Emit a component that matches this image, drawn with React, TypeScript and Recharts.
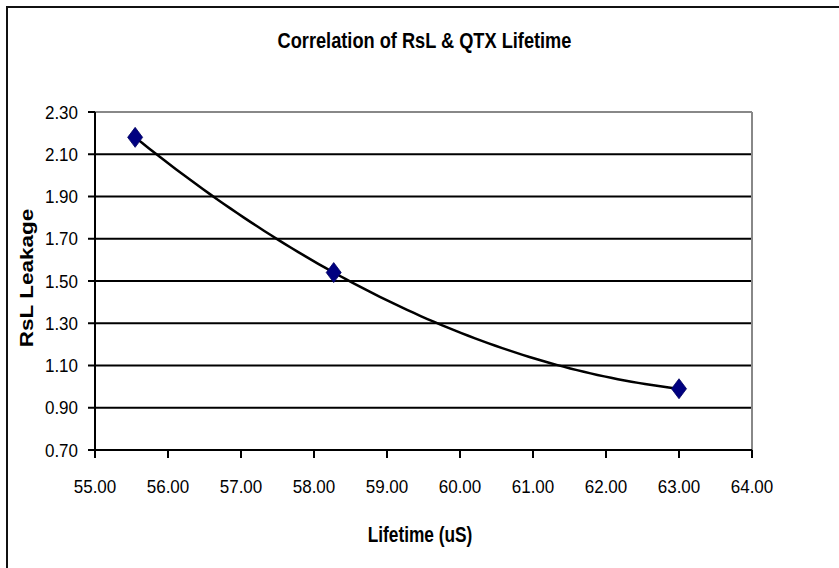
import React from "react";
import {
  ComposedChart,
  Scatter,
  Line,
  XAxis,
  YAxis,
  CartesianGrid,
  ReferenceLine,
} from "recharts";

// Measured samples: lifetime (uS) vs RsL leakage
const lifetimeUs = [55.55, 58.27, 63.0];
const rslLeakage = [2.18, 1.54, 0.99];

const xTicks = [55, 56, 57, 58, 59, 60, 61, 62, 63, 64];
const yTicks = [0.7, 0.9, 1.1, 1.3, 1.5, 1.7, 1.9, 2.1, 2.3];
const innerGridValues = [0.9, 1.1, 1.3, 1.5, 1.7, 1.9, 2.1];

const chartTitle = "Correlation of RsL & QTX Lifetime";
const xTitle = "Lifetime (uS)";
const yTitle = "RsL Leakage";

const data = lifetimeUs.map((x, i) => ({ x, y: rslLeakage[i] }));

const FONT = "'Liberation Sans', Arial, Helvetica, sans-serif";
const TICK_STRETCH = 1.1;

// Second-order polynomial trendline: the parabola through the first,
// middle and last projected points (scales are linear, so pixel space works).
const polyTrend = (context: any) => {
  let pts: { x: number; y: number }[] = [];
  return {
    areaStart() {},
    areaEnd() {},
    lineStart() {
      pts = [];
    },
    point(x: number, y: number) {
      pts.push({ x: +x, y: +y });
    },
    lineEnd() {
      if (pts.length === 0) return;
      if (pts.length < 3) {
        context.moveTo(pts[0].x, pts[0].y);
        pts.slice(1).forEach((p) => context.lineTo(p.x, p.y));
        return;
      }
      const a = pts[0];
      const b = pts[Math.floor(pts.length / 2)];
      const c = pts[pts.length - 1];
      const f = (x: number) =>
        (a.y * (x - b.x) * (x - c.x)) / ((a.x - b.x) * (a.x - c.x)) +
        (b.y * (x - a.x) * (x - c.x)) / ((b.x - a.x) * (b.x - c.x)) +
        (c.y * (x - a.x) * (x - b.x)) / ((c.x - a.x) * (c.x - b.x));
      const steps = 80;
      context.moveTo(a.x, a.y);
      for (let i = 1; i <= steps; i++) {
        const x = a.x + ((c.x - a.x) * i) / steps;
        context.lineTo(x, f(x));
      }
    },
  };
};

const Diamond = (props: any) => {
  const { cx, cy } = props;
  if (cx == null || cy == null) return null;
  const hw = 7.5;
  const hh = 10;
  return (
    <polygon
      points={`${cx},${cy - hh} ${cx + hw},${cy} ${cx},${cy + hh} ${cx - hw},${cy}`}
      fill="#000080"
      stroke="#000060"
      strokeWidth={0.8}
    />
  );
};

const fmt = (v: number) => v.toFixed(2);

const XTick = (props: any) => {
  const { x, y, payload } = props;
  return (
    <text
      transform={`translate(${x},${y}) scale(1,${TICK_STRETCH})`}
      textAnchor="middle"
      dy="0.71em"
      fontFamily={FONT}
      fontSize={17}
      fill="#000"
    >
      {fmt(payload.value)}
    </text>
  );
};

const YTick = (props: any) => {
  const { x, y, payload } = props;
  return (
    <text
      transform={`translate(${x},${y}) scale(1,${TICK_STRETCH})`}
      textAnchor="end"
      dy="0.355em"
      fontFamily={FONT}
      fontSize={17}
      fill="#000"
    >
      {fmt(payload.value)}
    </text>
  );
};

export default function App() {
  return (
    <div
      style={{
        position: "fixed",
        left: 0,
        top: 0,
        width: 839,
        height: 568,
        overflow: "hidden",
        background: "#fff",
      }}
    >
      {/* chart area frame */}
      <div
        style={{
          position: "absolute",
          left: 6,
          top: 6,
          width: 900,
          height: 700,
          borderTop: "2px solid #111",
          borderLeft: "2px solid #111",
          boxSizing: "border-box",
        }}
      />
      <div style={{ position: "absolute", left: 0, top: 0 }}>
        <ComposedChart
          width={839}
          height={568}
          data={data}
          margin={{ top: 112, right: 87, bottom: 0, left: 0 }}
        >
          <CartesianGrid
            vertical={false}
            horizontalValues={innerGridValues}
            stroke="#000"
            strokeWidth={2}
          />
          <ReferenceLine y={2.3} stroke="#888" strokeWidth={2} />
          <ReferenceLine x={64} stroke="#888" strokeWidth={2} />
          <XAxis
            dataKey="x"
            type="number"
            domain={[55, 64]}
            ticks={xTicks}
            interval={0}
            allowDataOverflow
            tickFormatter={fmt}
            height={118}
            tickSize={8}
            tickMargin={22}
            axisLine={{ stroke: "#000", strokeWidth: 2 }}
            tickLine={{ stroke: "#000", strokeWidth: 2 }}
            tick={<XTick />}
          />
          <YAxis
            type="number"
            domain={[0.7, 2.3]}
            ticks={yTicks}
            interval={0}
            allowDataOverflow
            tickFormatter={fmt}
            width={95}
            tickSize={7}
            tickMargin={10}
            axisLine={{ stroke: "#000", strokeWidth: 2 }}
            tickLine={{ stroke: "#000", strokeWidth: 2 }}
            tick={<YTick />}
          />
          <Scatter
            dataKey="y"
            shape={<Diamond />}
            isAnimationActive={false}
          />
          <Line
            dataKey="y"
            type={polyTrend as any}
            stroke="#000"
            strokeWidth={2.5}
            dot={false}
            activeDot={false}
            isAnimationActive={false}
          />
        </ComposedChart>
      </div>
      <svg
        width={839}
        height={568}
        style={{ position: "absolute", left: 0, top: 0, pointerEvents: "none" }}
      >
        <text
          transform="translate(424.5,48) scale(1,1.25)"
          textAnchor="middle"
          fontFamily={FONT}
          fontWeight="bold"
          fontSize={18.2}
          fill="#000"
        >
          {chartTitle}
        </text>
        <text
          transform="translate(420,542) scale(1,1.28)"
          textAnchor="middle"
          fontFamily={FONT}
          fontWeight="bold"
          fontSize={17.3}
          fill="#000"
        >
          {xTitle}
        </text>
        <text
          transform="translate(32.5,278) rotate(-90) scale(1.25,1)"
          textAnchor="middle"
          fontFamily={FONT}
          fontWeight="bold"
          fontSize={18}
          fill="#000"
        >
          {yTitle}
        </text>
      </svg>
    </div>
  );
}
